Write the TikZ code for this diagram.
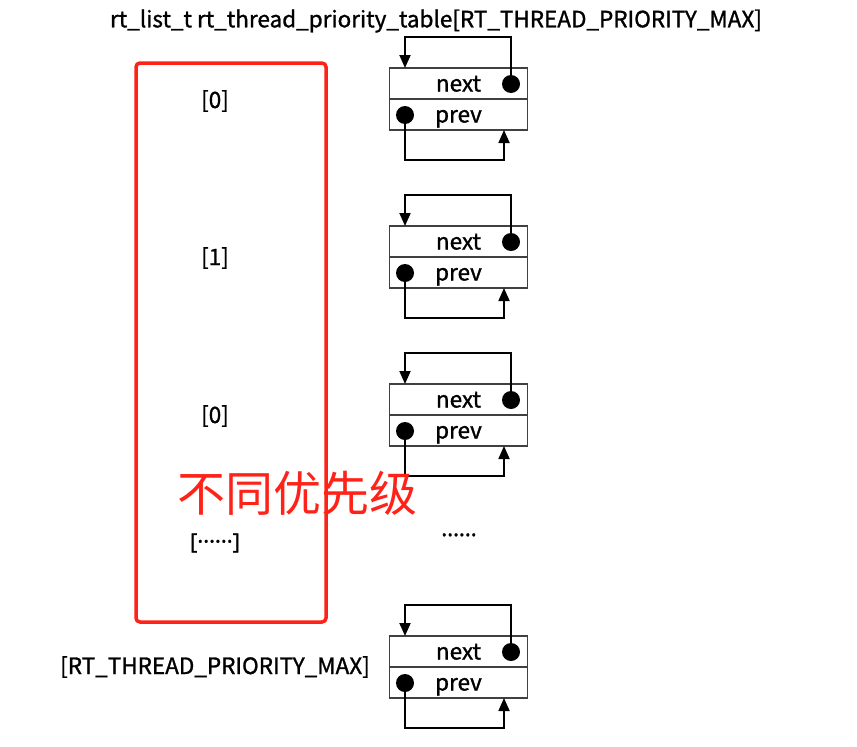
\documentclass[tikz,border=0pt]{standalone}
\usepackage{fontspec}
\setmainfont{Noto Sans CJK SC}
\newfontfamily\labelfont[FakeBold=1.2]{Noto Sans CJK SC}
\newfontfamily\dotsfont[FakeBold=1.2]{Noto Sans}
\usepackage{tikz}
\usetikzlibrary{arrows.meta,positioning,calc}

\definecolor{markred}{HTML}{FF2218}

\begin{document}
\begin{tikzpicture}[
  x=1pt, y=-1pt,
  font=\labelfont\fontsize{22.5}{24}\selectfont,
  field/.style={draw=black!75, line width=1.3pt, minimum width=138pt,
                minimum height=31pt, inner sep=0pt, outer sep=0pt,
                text height=17pt, text depth=1pt},
  dot/.style={circle, fill=black, minimum size=18pt, inner sep=0pt},
  link/.style={-{Triangle[length=13pt,width=11pt]}, line width=1.8pt},
  idx/.style={anchor=center}
]
\useasboundingbox (0,0) rectangle (857,747);

\node (title) at (436,21) {rt\_list\_t rt\_thread\_priority\_table[RT\_THREAD\_PRIORITY\_MAX]};

% one list head per priority
\foreach \i/\y in {0/68,1/226,2/384,3/636} {
  \node[field] (next\i) at (458.5,\y+15.5) {next};
  \node[field, below=0pt of next\i] (prev\i) {prev};
  \node[dot] (nd\i) at (511,\y+16) {};
  \node[dot] (pd\i) at (405,\y+47) {};
  \coordinate (top\i) at (405,\y-31);
  \coordinate (bot\i) at (504,\y+92);
  \draw[link] (nd\i.center) |- (top\i) -- (next\i.north -| top\i);
  \draw[link] (pd\i.center) |- (bot\i) -- (prev\i.south -| bot\i);
}

\node[idx] (row0) at (215,101) {[0]};
\node[idx] (row1) at (215,258) {[1]};
\node[idx] (row2) at (215,416) {[0]};
\node[idx, font=\dotsfont\fontsize{22}{24}\selectfont] (rowx) at (215,543) {[······]};
\node[idx] (rowmax) at (215,667) {[RT\_THREAD\_PRIORITY\_MAX]};
\node[font=\dotsfont\fontsize{22}{24}\selectfont] (gap) at (459,538) {······};

\draw[markred, line width=3.5pt, rounded corners=4pt] (136,63) rectangle (326,622);
\node[text=markred, font=\rmfamily\fontsize{48}{52}\selectfont] (prio) at (297,493) {不同优先级};
\end{tikzpicture}
\end{document}
